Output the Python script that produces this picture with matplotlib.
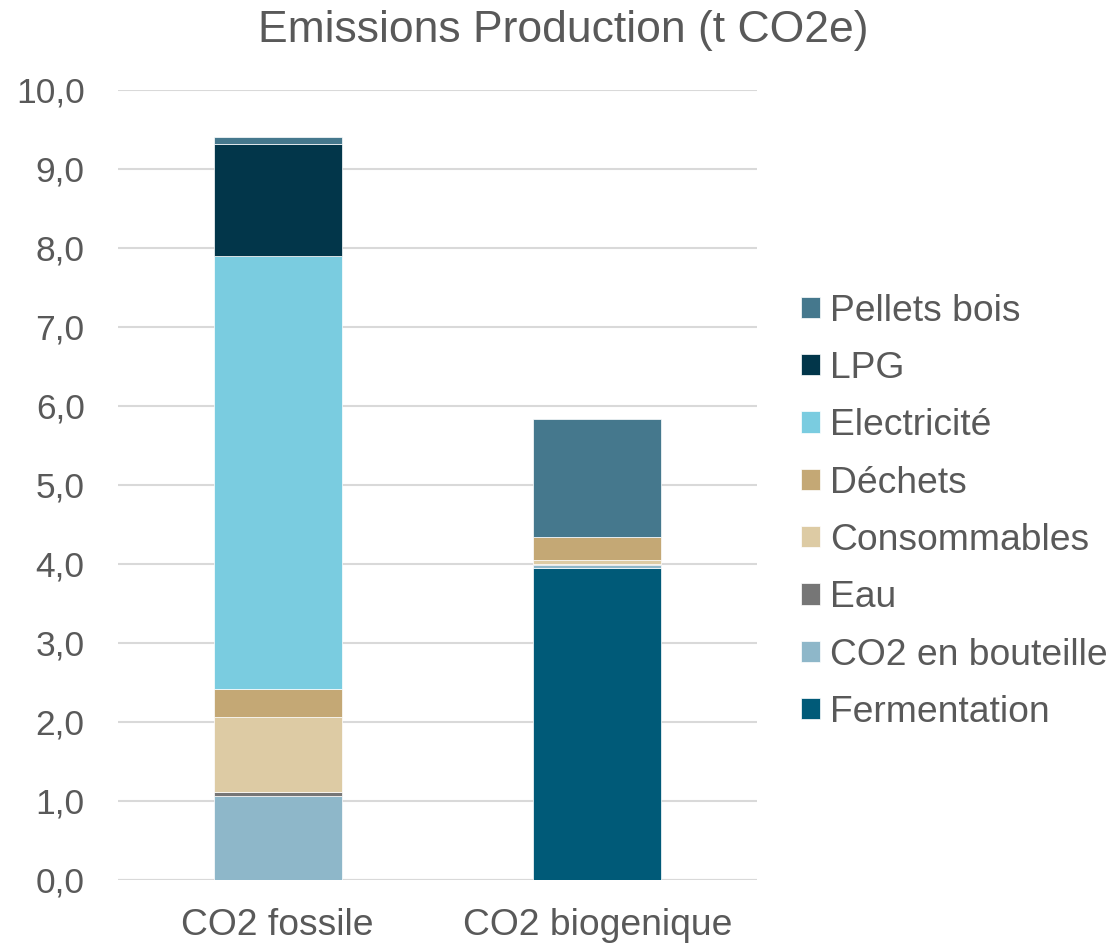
import matplotlib.pyplot as plt
import numpy as np

plt.rcParams['font.family'] = ['Liberation Sans', 'DejaVu Sans']

# Categories and stacked sources (t CO2e), bottom to top
categories = ['CO2 fossile', 'CO2 biogenique']
sources = ['Fermentation', 'CO2 en bouteille', 'Eau', 'Consommables',
           'Déchets', 'Electricité', 'LPG', 'Pellets bois']
fermentation = [0.00, 3.95]
co2_bouteille = [1.06, 0.04]
eau = [0.05, 0.01]
consommables = [0.95, 0.05]
dechets = [0.36, 0.29]
electricite = [5.48, 0.00]
lpg = [1.42, 0.00]
pellets = [0.09, 1.50]
values = [fermentation, co2_bouteille, eau, consommables,
          dechets, electricite, lpg, pellets]
colors = ['#005A78', '#8EB7C9', '#767676', '#DDCBA4',
          '#C4A875', '#7ACCE0', '#02364A', '#45788D']

text_col = '#595959'

fig = plt.figure(figsize=(11.09, 9.46), dpi=100)
ax = fig.add_axes([0.1064, 0.0698, 0.5762, 0.8351])

x = np.arange(len(categories))
bottom = np.zeros(len(categories))
for name, vals, col in zip(sources, values, colors):
    ax.bar(x, vals, width=0.4, bottom=bottom, color=col, label=name,
           edgecolor='white', linewidth=0.5, zorder=3)
    bottom += np.array(vals)

ax.set_xlim(-0.5, 1.5)
ax.set_ylim(0, 10)
ax.set_yticks(np.arange(0, 10.1, 1))
ax.set_yticklabels([f'{v:.1f}'.replace('.', ',') for v in np.arange(0, 10.1, 1)])
ax.set_xticks(x)
ax.set_xticklabels(categories)
ax.yaxis.grid(True, color='#D9D9D9', linewidth=1.5, zorder=0)
ax.set_axisbelow(True)
for s in ax.spines.values():
    s.set_visible(False)
ax.axhline(0, color='#D9D9D9', linewidth=1.5, zorder=2)
ax.tick_params(axis='y', length=0, pad=24, labelsize=25.5, labelcolor=text_col)
ax.tick_params(axis='x', length=0, pad=20, labelsize=26.8, labelcolor=text_col)

fig.text(0.508, 0.968, 'Emissions Production (t CO2e)', ha='center', va='center',
         fontsize=32, color=text_col)

handles, labels = ax.get_legend_handles_labels()
leg = fig.legend(handles[::-1], labels[::-1], loc='center left',
                 bbox_to_anchor=(0.7223, 0.459), frameon=False,
                 fontsize=26.8, handlelength=0.51, handleheight=0.51,
                 handletextpad=0.27, labelspacing=0.6, borderpad=0,
                 borderaxespad=0)
for t in leg.get_texts():
    t.set_color(text_col)

fig.savefig('out.png', dpi=100)
